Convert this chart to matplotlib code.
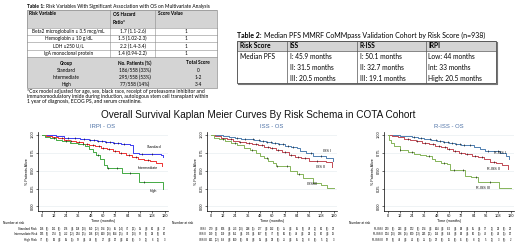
import matplotlib.pyplot as plt
import numpy as np
from matplotlib.patches import Rectangle
from matplotlib.transforms import blended_transform_factory

plt.rcParams['font.family'] = ['Liberation Sans', 'DejaVu Sans']
TF = ['Lato', 'DejaVu Sans']

# ---------------- table 1 ----------------
t1_title = "Risk Variables With Significant Association with OS on Multivariate Analysis"
t1_head = ["Risk Variable", "OS Hazard\nRatio*", "Score Value"]
t1_vars = ["Beta2 microglobulin \u2265 3.5 mcg/mL", "Hemoglobin \u2264 10 g/dL", "LDH \u2265250 U/L", "IgA monoclonal protein"]
t1_hr = ["1.7 (1.1-2.6)", "1.5 (1.02-2.3)", "2.2 (1.4-3.4)", "1.4 (0.94-2.2)"]
t1_score = ["1", "1", "1", "1"]
t1_grp_head = ["Group", "No. Patients (%)", "Total Score"]
t1_groups = ["Standard", "Intermediate", "High"]
t1_patients = ["186/558 (33%)", "295/558 (53%)", "77/558 (14%)"]
t1_total = ["0", "1-2", "3-4"]
t1_note = ["*Cox model adjusted for age, sex, black race, receipt of proteasome inhibitor and",
           "immunomodulatory imide during induction, autologous stem cell transplant within",
           "1 year of diagnosis, ECOG PS, and serum creatinine."]

# ---------------- table 2 ----------------
t2_title = "Median PFS MMRF CoMMpass Validation Cohort by Risk Score (n=938)"
t2_head = ["Risk Score", "ISS", "R-ISS", "IRPI"]
t2_cols = [["Median PFS", "", ""],
           ["I: 45.9 months", "II: 31.5 months", "III: 20.5 months"],
           ["I: 50.1 months", "II: 32.7 months", "III: 19.1 months"],
           ["Low: 44 months", "Int: 33 months", "High: 20.5 months"]]

main_title = "Overall Survival Kaplan Meier Curves By Risk Schema in COTA Cohort"

# ---------------- KM curves (months, survival) ----------------
irpi_std_t = [0, 6, 14, 22, 30, 38, 46, 54, 62, 70, 78, 86, 89, 95, 117, 119]
irpi_std_s = [1.0, 0.99, 0.975, 0.96, 0.95, 0.935, 0.92, 0.91, 0.90, 0.88, 0.87, 0.855, 0.75, 0.725, 0.715, 0.69]
irpi_int_t = [0, 4, 10, 16, 22, 28, 34, 40, 46, 52, 58, 64, 70, 76, 82, 88, 94, 100, 106, 112, 118]
irpi_int_s = [1.0, 0.985, 0.965, 0.95, 0.93, 0.91, 0.895, 0.875, 0.86, 0.84, 0.82, 0.80, 0.77, 0.745, 0.72, 0.69, 0.665, 0.645, 0.63, 0.61, 0.56]
irpi_high_t = [0, 3, 8, 14, 20, 28, 36, 42, 46, 50, 53, 57, 61, 64, 79, 95, 119]
irpi_high_s = [1.0, 0.97, 0.95, 0.92, 0.905, 0.89, 0.87, 0.84, 0.80, 0.76, 0.72, 0.66, 0.58, 0.53, 0.46, 0.34, 0.25]

iss1_t = [0, 6, 12, 18, 24, 30, 36, 42, 48, 54, 60, 66, 72, 78, 84, 87, 93, 100, 112, 119]
iss1_s = [1.0, 0.99, 0.98, 0.97, 0.96, 0.945, 0.935, 0.92, 0.91, 0.90, 0.885, 0.865, 0.845, 0.83, 0.815, 0.77, 0.745, 0.70, 0.68, 0.635]
iss2_t = [0, 4, 10, 16, 22, 28, 34, 40, 46, 52, 58, 64, 70, 76, 82, 88, 96, 112, 118]
iss2_s = [1.0, 0.98, 0.955, 0.935, 0.915, 0.90, 0.88, 0.865, 0.85, 0.83, 0.81, 0.79, 0.755, 0.72, 0.69, 0.675, 0.63, 0.62, 0.545]
iss3_t = [0, 3, 8, 14, 20, 26, 32, 38, 44, 48, 52, 56, 61, 64, 77, 84, 90, 100, 108, 113, 120]
iss3_s = [1.0, 0.96, 0.935, 0.905, 0.88, 0.85, 0.82, 0.79, 0.75, 0.70, 0.67, 0.63, 0.605, 0.56, 0.49, 0.45, 0.40, 0.33, 0.30, 0.26, 0.26]

riss1_t = [0, 6, 12, 18, 24, 30, 36, 42, 48, 54, 60, 66, 72, 78, 84, 90, 95, 110, 116, 119]
riss1_s = [1.0, 0.995, 0.985, 0.975, 0.965, 0.955, 0.94, 0.925, 0.91, 0.90, 0.885, 0.87, 0.86, 0.85, 0.835, 0.80, 0.77, 0.745, 0.70, 0.66]
riss2_t = [0, 4, 10, 16, 22, 28, 34, 40, 46, 52, 58, 64, 70, 76, 82, 88, 94, 100, 106, 112, 118]
riss2_s = [1.0, 0.985, 0.965, 0.945, 0.925, 0.905, 0.885, 0.865, 0.845, 0.825, 0.80, 0.775, 0.745, 0.725, 0.705, 0.685, 0.655, 0.62, 0.60, 0.575, 0.52]
riss3_t = [0, 1, 3, 6, 12, 20, 26, 32, 38, 43, 46, 52, 58, 61, 76, 81, 88, 109, 120]
riss3_s = [1.0, 0.93, 0.88, 0.84, 0.79, 0.76, 0.735, 0.72, 0.70, 0.66, 0.63, 0.61, 0.59, 0.51, 0.42, 0.41, 0.34, 0.26, 0.26]

# censoring marks (months)
cens_a = [26, 33, 41, 47, 51, 55, 59, 63, 67, 71, 75, 80, 98, 108]
cens_b = [20, 29, 37, 44, 50, 56, 60, 66, 72, 78, 85, 92, 104]
cens_c = [12, 24, 40, 55, 65, 74, 86, 100]

# number at risk: counts at 0,12,...,120 and censored in between
irpi_rows = ["Standard Risk", "Intermediate Risk", "High Risk"]
irpi_n = [[186, 181, 176, 168, 150, 124, 96, 70, 51, 36, 27],
          [295, 274, 252, 224, 186, 140, 104, 74, 52, 38, 26],
          [77, 69, 61, 52, 40, 27, 20, 14, 9, 6, 3]]
irpi_c = [[2, 2, 5, 10, 12, 16, 14, 11, 8, 5],
          [6, 9, 12, 15, 22, 18, 15, 10, 6, 6],
          [2, 3, 4, 5, 6, 3, 3, 2, 1, 1]]
iss_rows = ["ISS I", "ISS II", "ISS III"]
iss_n = [[279, 266, 253, 218, 177, 132, 95, 66, 45, 36, 23],
         [189, 169, 151, 125, 107, 77, 50, 40, 32, 26, 18],
         [141, 119, 100, 81, 51, 33, 25, 15, 8, 5, 3]]
iss_c = [[3, 5, 10, 4, 3, 7, 3, 6, 1, 2],
         [9, 8, 5, 5, 6, 6, 2, 3, 1, 3],
         [12, 8, 7, 8, 5, 2, 3, 1, 2, 1]]
riss_rows = ["R-ISS I", "R-ISS II", "R-ISS III"]
riss_n = [[220, 213, 202, 174, 144, 112, 83, 55, 37, 32, 22],
          [304, 286, 260, 215, 166, 114, 82, 60, 43, 34, 20],
          [62, 47, 42, 35, 23, 16, 11, 8, 5, 3, 2]]
riss_c = [[2, 3, 7, 3, 3, 5, 5, 5, 1, 2],
          [10, 16, 13, 11, 8, 8, 5, 4, 2, 4],
          [6, 3, 2, 4, 2, 2, 2, 1, 1, 0]]

fig = plt.figure(figsize=(5.2, 2.46), dpi=100)
ax0 = fig.add_axes([0, 0, 1, 1])
ax0.set_xlim(0, 520)
ax0.set_ylim(246, 0)
ax0.axis('off')

# ---- table 1 drawing ----
c1 = [27, 110, 155, 217]
r1 = [10, 28, 35.2, 42.4, 49.6, 56.8, 88]
lc = '#8c8c8c'
ax0.add_patch(Rectangle((c1[0], r1[0]), c1[-1] - c1[0], r1[1] - r1[0], fc='#d4d4d4', ec='none'))
ax0.add_patch(Rectangle((c1[0], r1[5]), c1[-1] - c1[0], r1[6] - r1[5], fc='#d4d4d4', ec='none'))
ax0.add_patch(Rectangle((c1[0], r1[0]), c1[-1] - c1[0], r1[-1] - r1[0], fc='none', ec=lc, lw=0.5))
for y in r1[1:-1]:
    ax0.plot([c1[0], c1[-1]], [y, y], color=lc, lw=0.4)
for x in c1[1:-1]:
    ax0.plot([x, x], [r1[0], r1[5]], color=lc, lw=0.4)
ax0.text(c1[0], 6.3, "Table 1:", fontsize=3.6, fontweight='bold', family=TF, va='center')
ax0.text(c1[0] + 19.5, 6.3, t1_title, fontsize=3.5, family=TF, va='center')
ax0.text(29, 13.5, t1_head[0], fontsize=3.4, fontweight='bold', family=TF, va='center')
ax0.text(113, 18.5, t1_head[1], fontsize=3.4, fontweight='bold', family=TF, va='center', linespacing=2.0)
ax0.text(158, 13.5, t1_head[2], fontsize=3.4, fontweight='bold', family=TF, va='center')
for i in range(len(t1_vars)):
    yc = (r1[i + 1] + r1[i + 2]) / 2
    ax0.text(68.5, yc, t1_vars[i], fontsize=3.4, family=TF, ha='center', va='center')
    ax0.text(132.5, yc, t1_hr[i], fontsize=3.4, family=TF, ha='center', va='center')
    ax0.text(186, yc, t1_score[i], fontsize=3.4, family=TF, ha='center', va='center')
gx = [66, 135, 198]
for j in range(3):
    ax0.text(gx[j], 63, t1_grp_head[j], fontsize=3.4, fontweight='bold', family=TF, ha='center', va='center')
for i in range(3):
    yc = 70.3 + i * 7
    ax0.text(gx[0], yc, t1_groups[i], fontsize=3.4, family=TF, ha='center', va='center')
    ax0.text(gx[1], yc, t1_patients[i], fontsize=3.4, family=TF, ha='center', va='center')
    ax0.text(gx[2], yc, t1_total[i], fontsize=3.4, family=TF, ha='center', va='center')
for i, line in enumerate(t1_note):
    ax0.text(c1[0], 91 + i * 5.3, line, fontsize=3.6, family=TF, va='center')

# ---- table 2 drawing ----
c2 = [237, 287, 357, 426, 496]
ax0.add_patch(Rectangle((c2[0], 40.7), c2[-1] - c2[0], 10, fc='#d4d4d4', ec='none'))
ax0.plot([c2[0], c2[-1]], [50.7, 50.7], color='#555555', lw=0.5)
for x in c2[1:-1]:
    ax0.plot([x, x], [40.7, 83.3], color='#555555', lw=0.5)
ax0.add_patch(Rectangle((c2[0], 40.7), c2[-1] - c2[0], 42.6, fc='none', ec='#444444', lw=0.6))
ax0.plot([c2[-1] + 1, c2[-1] + 1, c2[0] + 1], [41.7, 84.3, 84.3], color='#777777', lw=0.8)
ax0.text(c2[0], 35, "Table 2:", fontsize=5.0, fontweight='bold', family=TF, va='center')
ax0.text(c2[0] + 27.5, 35, t2_title, fontsize=5.0, family=TF, va='center')
for j in range(4):
    ax0.text(c2[j] + 2.5, 45.7, t2_head[j], fontsize=4.8, fontweight='bold', family=TF, va='center')
    for i in range(3):
        ax0.text(c2[j] + 2.5, 56.7 + i * 10.8, t2_cols[j][i], fontsize=4.8, family=TF, va='center')

ax0.text(258, 115, main_title, fontsize=7.2, ha='center', va='center', color='#111111')


def step_val(t, s, x):
    idx = np.searchsorted(t, x, side='right') - 1
    return np.array(s)[idx]


def km_panel(zero_px, subtitle, curves, labels, rows, nrisk, ncens):
    scale = 1.025
    left = zero_px - 3.5 * scale
    ax = fig.add_axes([left / 520, 1 - 210.8 / 246, 126.5 * scale / 520, 79 / 246])
    for (t, s, col, cens), (lab, lx, ly) in zip(curves, labels):
        ax.step(t, s, where='post', color=col, lw=0.7)
        cv = step_val(t, s, cens)
        ax.plot(cens, cv, ls='none', marker='|', ms=1.6, mew=0.4, color='black')
        ax.text(lx, ly, lab, fontsize=2.6, ha='center', va='center')
    ax.set_xlim(-3.5, 123)
    ax.set_ylim(-0.06, 1.04)
    ax.set_xticks(np.arange(0, 121, 12))
    ax.set_yticks([0, 0.25, 0.5, 0.75, 1.0])
    ax.set_yticklabels(["0.00", "0.25", "0.50", "0.75", "1.00"], rotation=90, va='center')
    ax.tick_params(labelsize=2.8, length=1.2, width=0.4, pad=1)
    ax.grid(axis='y', color='#e3eaee', lw=0.4)
    ax.set_axisbelow(True)
    for sp in ['top', 'right']:
        ax.spines[sp].set_visible(False)
    for sp in ['left', 'bottom']:
        ax.spines[sp].set_linewidth(0.5)
    ax.set_xlabel("Time (months)", fontsize=2.7, labelpad=0.8)
    ax.set_ylabel("% Patients Alive", fontsize=2.7, labelpad=1.2)
    ax.set_title(subtitle, fontsize=4.2, color='#4a6fa5', pad=3)
    tr = blended_transform_factory(ax.transData, ax0.transData)
    ax0.text(max(1, left - 35), 223.5, "Number at risk", fontsize=2.3, va='center')
    ticks = np.arange(0, 121, 12)
    for r in range(3):
        y = 229 + r * 5.3
        ax0.text(left - 1, y, rows[r], fontsize=2.1, ha='right', va='center')
        for k in range(11):
            ax0.text(ticks[k], y, str(nrisk[r][k]), fontsize=1.9, ha='center', va='center', transform=tr)
        for k in range(10):
            ax0.text(ticks[k] + 6, y, "(%d)" % ncens[r][k], fontsize=1.9, ha='center', va='center', transform=tr)
    return ax


km_panel(41.5, "IRPI - OS",
         [(irpi_std_t, irpi_std_s, '#3b3bf0', cens_a),
          (irpi_int_t, irpi_int_s, '#ee3333', cens_b),
          (irpi_high_t, irpi_high_s, '#44aa44', cens_c)],
         [("Standard", 110, 0.83), ("Intermediate", 104, 0.53), ("High", 109, 0.21)],
         irpi_rows, irpi_n, irpi_c)
km_panel(210.7, "ISS - OS",
         [(iss1_t, iss1_s, '#4f7fb0', cens_a),
          (iss2_t, iss2_s, '#c04a55', cens_b),
          (iss3_t, iss3_s, '#86b45a', cens_c)],
         [("ISS I", 113, 0.77), ("ISS II", 107, 0.55), ("ISS III", 99, 0.31)],
         iss_rows, iss_n, iss_c)
km_panel(387.5, "R-ISS - OS",
         [(riss1_t, riss1_s, '#4f7fb0', cens_a),
          (riss2_t, riss2_s, '#c04a55', cens_b),
          (riss3_t, riss3_s, '#86b45a', cens_c)],
         [("R-ISS I", 110, 0.745), ("R-ISS II", 103, 0.52), ("R-ISS III", 93, 0.26)],
         riss_rows, riss_n, riss_c)

fig.savefig('out.png', dpi=100)
